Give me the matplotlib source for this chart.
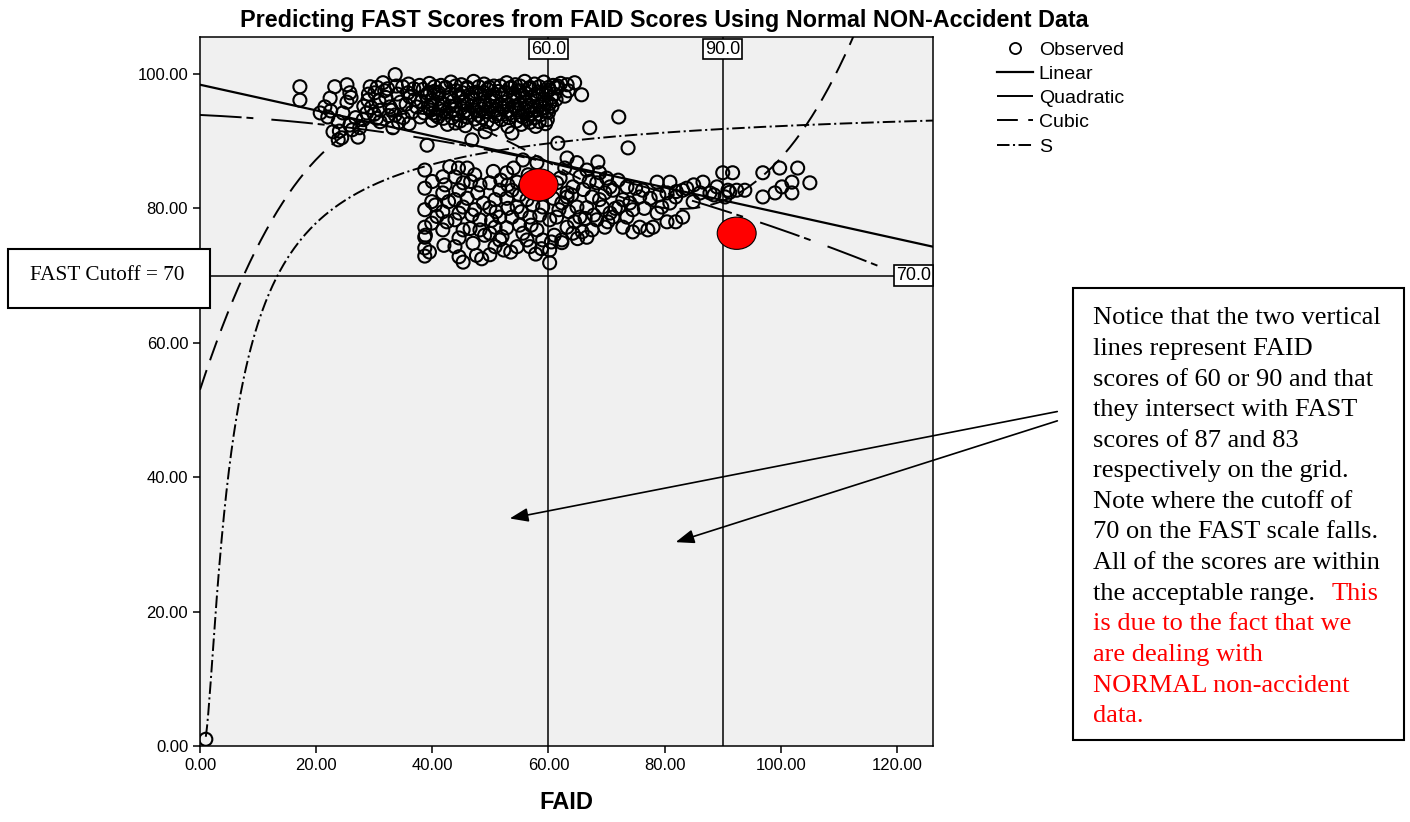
import numpy as np
import matplotlib
matplotlib.use("Agg")
import matplotlib.pyplot as plt
from matplotlib.lines import Line2D
from matplotlib.patches import Ellipse, Rectangle, FancyArrowPatch

plt.rcParams['font.family'] = ['Liberation Sans', 'DejaVu Sans']
plt.rcParams['lines.scale_dashes'] = False

# ---- data ----
# observed points (FAID, FAST)
obs_upper_left = [
    (17.2, 98.1), (17.2, 96.1), (23.2, 98.1), (25.3, 98.4), (25.8, 97.2), (22.4, 96.4),
    (25.3, 95.8), (21.5, 95.1), (20.7, 94.2), (22.0, 93.6), (24.6, 94.2), (23.8, 92.9),
    (25.8, 92.4), (22.9, 91.4), (24.4, 90.5), (27.2, 90.6), (23.8, 90.2), (26.2, 91.7),
    (29.3, 98.1), (30.1, 97.2), (31.5, 98.7), (33.6, 99.9), (28.9, 96.1), (28.7, 94.2),
    (28.1, 93.2), (31.0, 94.6), (32.7, 95.1), (33.6, 93.9), (33.2, 92.0), (39.1, 89.4),
    (31.0, 92.9), (34.9, 98.1), (36.1, 96.6), (37.3, 95.1), (37.9, 93.6), (39.6, 97.2),
    (40.1, 94.2), (29.5, 95.0), (30.5, 98.0), (32.0, 96.5), (34.0, 97.0), (35.5, 95.5),
    (36.8, 97.8), (35.0, 93.5), (32.5, 93.8), (30.0, 94.0), (27.5, 92.0), (26.8, 93.5),
    (24.0, 91.5), (22.5, 94.5), (26.0, 96.5), (33.8, 98.2), (37.8, 98.3), (36.5, 94.3),
    (31.8, 97.5), (29.0, 97.0), (30.8, 96.0), (32.3, 97.8), (34.5, 95.8), (35.8, 97.2),
    (33.0, 94.6), (34.2, 92.8), (30.4, 93.4), (28.2, 95.2), (35.9, 98.5), (37.0, 96.2),
    (36.0, 92.6),
]
obs_upper_dense = [
    (39.5, 98.6), (41.5, 98.3), (43.2, 98.8), (45.0, 98.4), (47.1, 98.9), (48.9, 98.5),
    (50.6, 98.2), (52.8, 98.7), (54.3, 98.4), (55.9, 98.9), (57.6, 98.5), (59.2, 98.8),
    (60.8, 98.3), (62.1, 98.6),
    (40.4, 98.1), (42.3, 98.0), (44.0, 98.2), (46.0, 98.0), (48.0, 98.1), (49.8, 98.0),
    (51.7, 98.2), (53.6, 98.0), (55.1, 98.2), (56.8, 98.0), (58.4, 98.1), (60.0, 98.0),
    (61.6, 98.2),
    (38.4, 97.7), (40.3, 97.4), (42.2, 97.9), (44.1, 97.5), (46.0, 97.8), (47.6, 97.3),
    (49.5, 97.7), (51.4, 97.4), (53.3, 97.9), (55.0, 97.5), (56.6, 97.8), (58.3, 97.3),
    (60.1, 97.6), (61.5, 97.9), (63.4, 97.5),
    (39.2, 97.1), (41.1, 97.2), (43.1, 97.0), (45.2, 97.2), (47.0, 97.1), (48.9, 97.2),
    (50.8, 97.0), (52.6, 97.2), (54.2, 97.0), (56.0, 97.2), (57.8, 97.0), (59.6, 97.2),
    (61.0, 97.0),
    (39.0, 96.7), (41.0, 96.9), (42.9, 96.5), (44.6, 96.8), (46.6, 96.6), (48.3, 97.0),
    (50.1, 96.6), (52.0, 96.9), (53.9, 96.5), (55.6, 96.8), (57.2, 96.6), (59.0, 97.0),
    (60.5, 96.5), (62.8, 96.7),
    (38.1, 95.9), (40.0, 96.1), (41.7, 95.7), (43.6, 96.0), (45.4, 95.8), (47.2, 96.1),
    (49.0, 95.7), (50.9, 96.0), (52.6, 95.8), (54.6, 96.1), (56.2, 95.7), (58.0, 96.0),
    (59.6, 95.8), (61.3, 96.2),
    (39.8, 95.4), (42.0, 95.5), (44.0, 95.3), (46.0, 95.5), (48.0, 95.4), (49.8, 95.3),
    (51.6, 95.5), (53.2, 95.4), (55.0, 95.5), (56.8, 95.3), (58.6, 95.4), (60.2, 95.6),
    (39.3, 95.1), (41.2, 94.8), (43.0, 95.2), (45.0, 94.9), (46.8, 95.2), (48.5, 94.8),
    (50.3, 95.1), (52.2, 94.9), (54.0, 95.2), (55.8, 94.8), (57.5, 95.1), (59.2, 94.9),
    (60.6, 95.2),
    (39.7, 94.6), (41.8, 94.5), (43.6, 94.7), (45.6, 94.5), (47.4, 94.6), (49.2, 94.4),
    (51.0, 94.6), (52.8, 94.5), (54.6, 94.6), (56.4, 94.4), (58.0, 94.6), (59.7, 94.5),
    (38.6, 94.2), (40.6, 93.9), (42.4, 94.3), (44.2, 94.0), (46.1, 94.2), (47.9, 93.9),
    (49.7, 94.3), (51.5, 94.0), (53.4, 94.2), (55.2, 93.8), (57.0, 94.1), (58.6, 93.9),
    (60.0, 94.3),
    (41.0, 93.6), (43.4, 93.5), (46.0, 93.6), (48.6, 93.5), (50.8, 93.7), (53.2, 93.5),
    (55.6, 93.6), (57.6, 93.5),
    (40.0, 93.1), (41.9, 93.4), (44.8, 93.0), (47.3, 93.3), (49.4, 92.9), (51.9, 93.2),
    (54.5, 93.0), (56.4, 93.3), (58.4, 92.9), (59.8, 93.2),
    (42.6, 92.5), (45.7, 92.3), (48.0, 92.6), (53.0, 92.2), (55.3, 92.5), (57.8, 92.2),
    (59.5, 92.6), (44.0, 92.7), (50.5, 92.6), (56.8, 92.8),
]
obs_upper_outliers = [
    (65.7, 96.9), (64.5, 98.7), (67.1, 92.0), (63.2, 98.4), (61.6, 89.7), (53.7, 91.2),
    (49.1, 91.4), (46.8, 90.2), (72.1, 93.6), (73.7, 89.0),
]
obs_lower = [
    (38.7, 85.7), (38.7, 83.0), (38.7, 79.8), (38.7, 77.2), (38.7, 75.7), (38.7, 74.1), (38.7, 72.9),
    (39.9, 81.0), (39.9, 77.8),
    (41.8, 84.7), (41.8, 82.3), (41.8, 79.5), (41.8, 76.8),
    (43.9, 84.7), (45.3, 83.8), (44.6, 82.7), (43.9, 81.3), (45.3, 80.2), (44.6, 79.3),
    (43.9, 78.3), (45.3, 76.8), (44.6, 75.6), (43.9, 74.3), (44.6, 72.8), (45.3, 72.0),
    (47.3, 85.0), (48.2, 83.5), (47.8, 82.3), (47.3, 79.8), (48.2, 78.3),
    (49.9, 83.8), (51.6, 82.7), (50.8, 81.3), (49.9, 80.1), (51.6, 78.7), (50.8, 77.2),
    (49.9, 76.3), (51.6, 75.3), (50.8, 74.3), (49.9, 73.1),
    (52.8, 85.3), (54.6, 83.9), (53.7, 82.7), (52.8, 81.5), (54.6, 80.2), (53.7, 78.7),
    (52.8, 77.1), (54.6, 74.3),
    (55.6, 87.2), (56.3, 81.3), (56.8, 78.7), (55.6, 76.3), (56.3, 75.3), (56.8, 74.3),
    (58.0, 86.8), (59.0, 80.2), (60.2, 78.3), (58.0, 76.8), (59.0, 75.3), (60.2, 73.8), (60.2, 71.9),
    (61.4, 83.8), (63.2, 82.3), (62.3, 80.8), (61.4, 78.7), (63.2, 77.2), (62.3, 74.9),
    (63.2, 87.5), (64.9, 86.8), (65.4, 84.7), (64.2, 83.2), (63.2, 81.7), (64.9, 80.2),
    (65.4, 78.7), (64.2, 76.3),
    (66.6, 85.7), (68.3, 83.8), (67.5, 81.7), (66.6, 80.1), (68.3, 78.3), (67.5, 76.8), (66.6, 75.7),
    (68.5, 86.9),
    (68.8, 85.3), (70.6, 83.2), (69.7, 82.3), (68.8, 81.3), (70.6, 79.3), (69.7, 77.2),
    (71.1, 82.7), (72.8, 81.3), (72.1, 80.2), (71.1, 78.7), (72.8, 77.2),
    (73.5, 83.2), (75.7, 81.7), (74.5, 79.8), (73.5, 78.7), (75.7, 77.2), (74.5, 76.5),
    (76.2, 82.7), (78.0, 77.2), (77.1, 76.8),
    (78.7, 83.9), (80.4, 82.3), (79.5, 80.2), (78.7, 79.3), (80.4, 78.0),
    (80.9, 83.9), (83.1, 82.7), (81.9, 81.7), (80.9, 80.8), (83.1, 78.7), (81.9, 78.0),
    (83.8, 83.0), (86.1, 82.3), (84.9, 81.0),
    (86.6, 83.9), (89.0, 83.2), (87.8, 82.3),
    (90.0, 85.3), (91.2, 82.4),
    (91.7, 85.3), (90.9, 82.7), (92.4, 82.7), (93.8, 82.7), (90.4, 81.7), (96.9, 85.3),
    (99.8, 86.0), (102.9, 86.0), (101.9, 83.9), (105.0, 83.8), (100.2, 83.2), (99.0, 82.3),
    (101.9, 82.3), (96.9, 81.7),
    (62.3, 75.3),
    (40.5, 80.5), (42.5, 78.0), (46.0, 81.5), (46.5, 77.0), (48.8, 80.8), (49.0, 76.0),
    (51.0, 79.5), (52.0, 75.8), (53.0, 80.0), (55.0, 82.0), (57.5, 82.5), (58.5, 79.0),
    (60.8, 81.5), (57.0, 77.5), (55.0, 77.5), (42.0, 74.5), (47.0, 74.8), (53.5, 73.5),
    (58.8, 74.0), (61.0, 76.0), (62.0, 84.5), (59.5, 84.0), (56.5, 85.0), (54.0, 86.0),
    (50.5, 85.5), (46.0, 86.0), (43.0, 86.2), (64.0, 82.0), (66.0, 82.8), (70.0, 84.5),
    (71.5, 80.0), (76.5, 80.0), (67.8, 79.0), (63.5, 79.5), (65.8, 76.5), (48.5, 72.5),
    (39.5, 73.5), (38.8, 76.0),
    (40.0, 84.0), (40.8, 78.8), (42.8, 81.0), (42.2, 83.5), (44.5, 86.0), (46.6, 84.0),
    (46.8, 79.0), (48.2, 76.8), (47.6, 73.0), (50.2, 78.2), (51.8, 84.2), (52.3, 73.8),
    (53.0, 83.5), (55.3, 79.5), (56.0, 83.2), (57.3, 80.5), (57.8, 73.2), (59.7, 82.5),
    (61.8, 79.8), (62.8, 86.0), (60.5, 75.0), (64.5, 78.0), (65.0, 75.5), (66.3, 78.5),
    (67.0, 84.0), (69.3, 80.2), (70.2, 78.0), (72.0, 84.2), (74.0, 80.8), (75.0, 83.0),
    (77.5, 81.5), (79.0, 82.0), (82.0, 82.5), (85.0, 83.5), (88.5, 82.0),
]
obs_misc = [(1.0, 1.0)]

# fitted curves (coefficients estimated from the drawn lines)
linear_coef = [98.4, -0.191]                   # b0 + b1*x
quadratic_coef = [93.9, -0.0399, -0.001306]    # b0 + b1*x + b2*x^2
cubic_coef = [53.0, 2.638, -0.05202, 0.0002909]
s_coef = [4.567, -4.25]                        # exp(b0 + b1/x)

ref_faid = [60.0, 90.0]
ref_fast = 70.0

highlight_faid = [58.3, 92.4]
highlight_fast = [83.5, 76.3]

x_ticks = [0, 20, 40, 60, 80, 100, 120]
y_ticks = [0, 20, 40, 60, 80, 100]

note_black = ["Notice that the two vertical", "lines represent FAID",
              "scores of 60 or 90 and that", "they intersect with FAST",
              "scores of 87 and 83", "respectively on the grid.",
              "Note where the cutoff of", "70 on the FAST scale falls.",
              "All of the scores are within", "the acceptable range."]
note_red = ["This", "is due to the fact that we", "are dealing with",
            "NORMAL non-accident", "data."]

# ---- figure ----
W, H = 1410, 822
fig = plt.figure(figsize=(W / 100, H / 100), dpi=100)
ax = fig.add_axes([200 / W, 1 - 746 / H, 733 / W, 709 / H])
ax.set_facecolor('#f0f0f0')
ax.set_xlim(0, 126.2)
ax.set_ylim(0, 105.5)

pts = np.array(obs_upper_left + obs_upper_dense + obs_upper_outliers + obs_lower + obs_misc)
ax.scatter(pts[:, 0], pts[:, 1], s=88, facecolors='none', edgecolors='black',
           linewidths=1.5, zorder=3)

xs = np.linspace(0, 126.2, 400)
xs_q = np.linspace(0, 121, 400)
xs_s = np.linspace(1.0, 126.2, 600)
y_lin = linear_coef[0] + linear_coef[1] * xs
y_quad = quadratic_coef[0] + quadratic_coef[1] * xs_q + quadratic_coef[2] * xs_q ** 2
y_cub = cubic_coef[0] + cubic_coef[1] * xs + cubic_coef[2] * xs ** 2 + cubic_coef[3] * xs ** 3
y_s = np.exp(s_coef[0] + s_coef[1] / xs_s)

ax.plot(xs, y_lin, color='black', lw=1.6, zorder=4)
ax.plot(xs_q, y_quad, color='black', lw=1.4, dashes=(30, 3.5, 5, 13), zorder=4)
ax.plot(xs, y_cub, color='black', lw=1.4, dashes=(15, 7.5), zorder=4)
ax.plot(xs_s, y_s, color='black', lw=1.4, dashes=(9, 2.5, 1.5, 2.5), zorder=4)

# reference lines and their labels
for rf in ref_faid:
    ax.axvline(rf, color='black', lw=1.1, zorder=2)
    ax.text(rf, 0.983, f"{rf:.1f}", transform=ax.get_xaxis_transform(),
            ha='center', va='center', fontsize=13, zorder=6,
            bbox=dict(boxstyle='square,pad=0.1', fc='white', ec='black', lw=1.2))
ax.axhline(ref_fast, color='black', lw=1.1, zorder=2)
ax.text(0.997, ref_fast, f"{ref_fast:.1f}", transform=ax.get_yaxis_transform(),
        ha='right', va='center', fontsize=13, zorder=6,
        bbox=dict(boxstyle='square,pad=0.1', fc='white', ec='black', lw=1.2))

for hx, hy in zip(highlight_faid, highlight_fast):
    ax.add_patch(Ellipse((hx, hy), 6.7, 4.8, fc='red', ec='black', lw=0.8, zorder=7))

ax.set_xticks(x_ticks)
ax.set_yticks(y_ticks)
ax.set_xticklabels([f"{v:.2f}" for v in x_ticks])
ax.set_yticklabels([f"{v:.2f}" for v in y_ticks])
ax.tick_params(direction='out', length=5, width=1.1, labelsize=12, colors='black',
               top=False, right=False)
for sp in ax.spines.values():
    sp.set_linewidth(1.1)

ax.set_xlabel("FAID", fontsize=17, fontweight='bold', labelpad=13)

fig.text(664 / W, 1 - 20 / H,
         "Predicting FAST Scores from FAID Scores Using Normal NON-Accident Data",
         ha='center', va='center', fontsize=16.8, fontweight='bold')

# legend
handles = [
    Line2D([], [], marker='o', ls='none', mfc='none', mec='black', mew=1.3, markersize=8),
    Line2D([], [], color='black', lw=1.6),
    Line2D([], [], color='black', lw=1.4, dashes=(30, 3.5, 5, 13)),
    Line2D([], [], color='black', lw=1.4, dashes=(15, 7.5)),
    Line2D([], [], color='black', lw=1.4, dashes=(9, 2.5, 1.5, 2.5)),
]
fig.legend(handles, ["Observed", "Linear", "Quadratic", "Cubic", "S"],
           loc='upper left', bbox_to_anchor=(997 / W, 1 - 41 / H), frameon=False,
           fontsize=14, handlelength=1.85, handletextpad=0.3, labelspacing=0.34,
           borderaxespad=0, borderpad=0)

# cutoff box on the left
fig.add_artist(Rectangle((8 / W, 1 - 308 / H), 202 / W, 59 / H, transform=fig.transFigure,
                         fc='white', ec='black', lw=1.5, zorder=5))
fig.text(30 / W, 1 - 280 / H, "FAST Cutoff = 70", fontsize=15.3, va='baseline',
         family=['Liberation Serif'], zorder=6)

# note box
fig.add_artist(Rectangle((1073 / W, 1 - 740 / H), 331 / W, 452 / H, transform=fig.transFigure,
                         fc='white', ec='black', lw=1.5, zorder=5))
base0, step = 324.3, 30.6
for i, line in enumerate(note_black):
    fig.text(1093 / W, 1 - (base0 + step * i) / H, line, fontsize=19, va='baseline',
             family=['Liberation Serif'], color='black', zorder=6)
fig.text(1332 / W, 1 - (base0 + step * 9) / H, note_red[0], fontsize=19, va='baseline',
         family=['Liberation Serif'], color='red', zorder=6)
for i, line in enumerate(note_red[1:]):
    fig.text(1093 / W, 1 - (base0 + step * (10 + i)) / H, line, fontsize=19, va='baseline',
             family=['Liberation Serif'], color='red', zorder=6)

# arrows from the note into the plot
for (x0, y0), (x1, y1) in [((1060, 411), (507, 519)), ((1060, 420), (673, 543))]:
    fig.add_artist(FancyArrowPatch(
        (x0 / W, 1 - y0 / H), (x1 / W, 1 - y1 / H), transform=fig.transFigure,
        arrowstyle='-|>,head_length=0.8,head_width=0.3', mutation_scale=14,
        color='black', lw=1.2, zorder=6))

fig.savefig("out.png", dpi=100)
